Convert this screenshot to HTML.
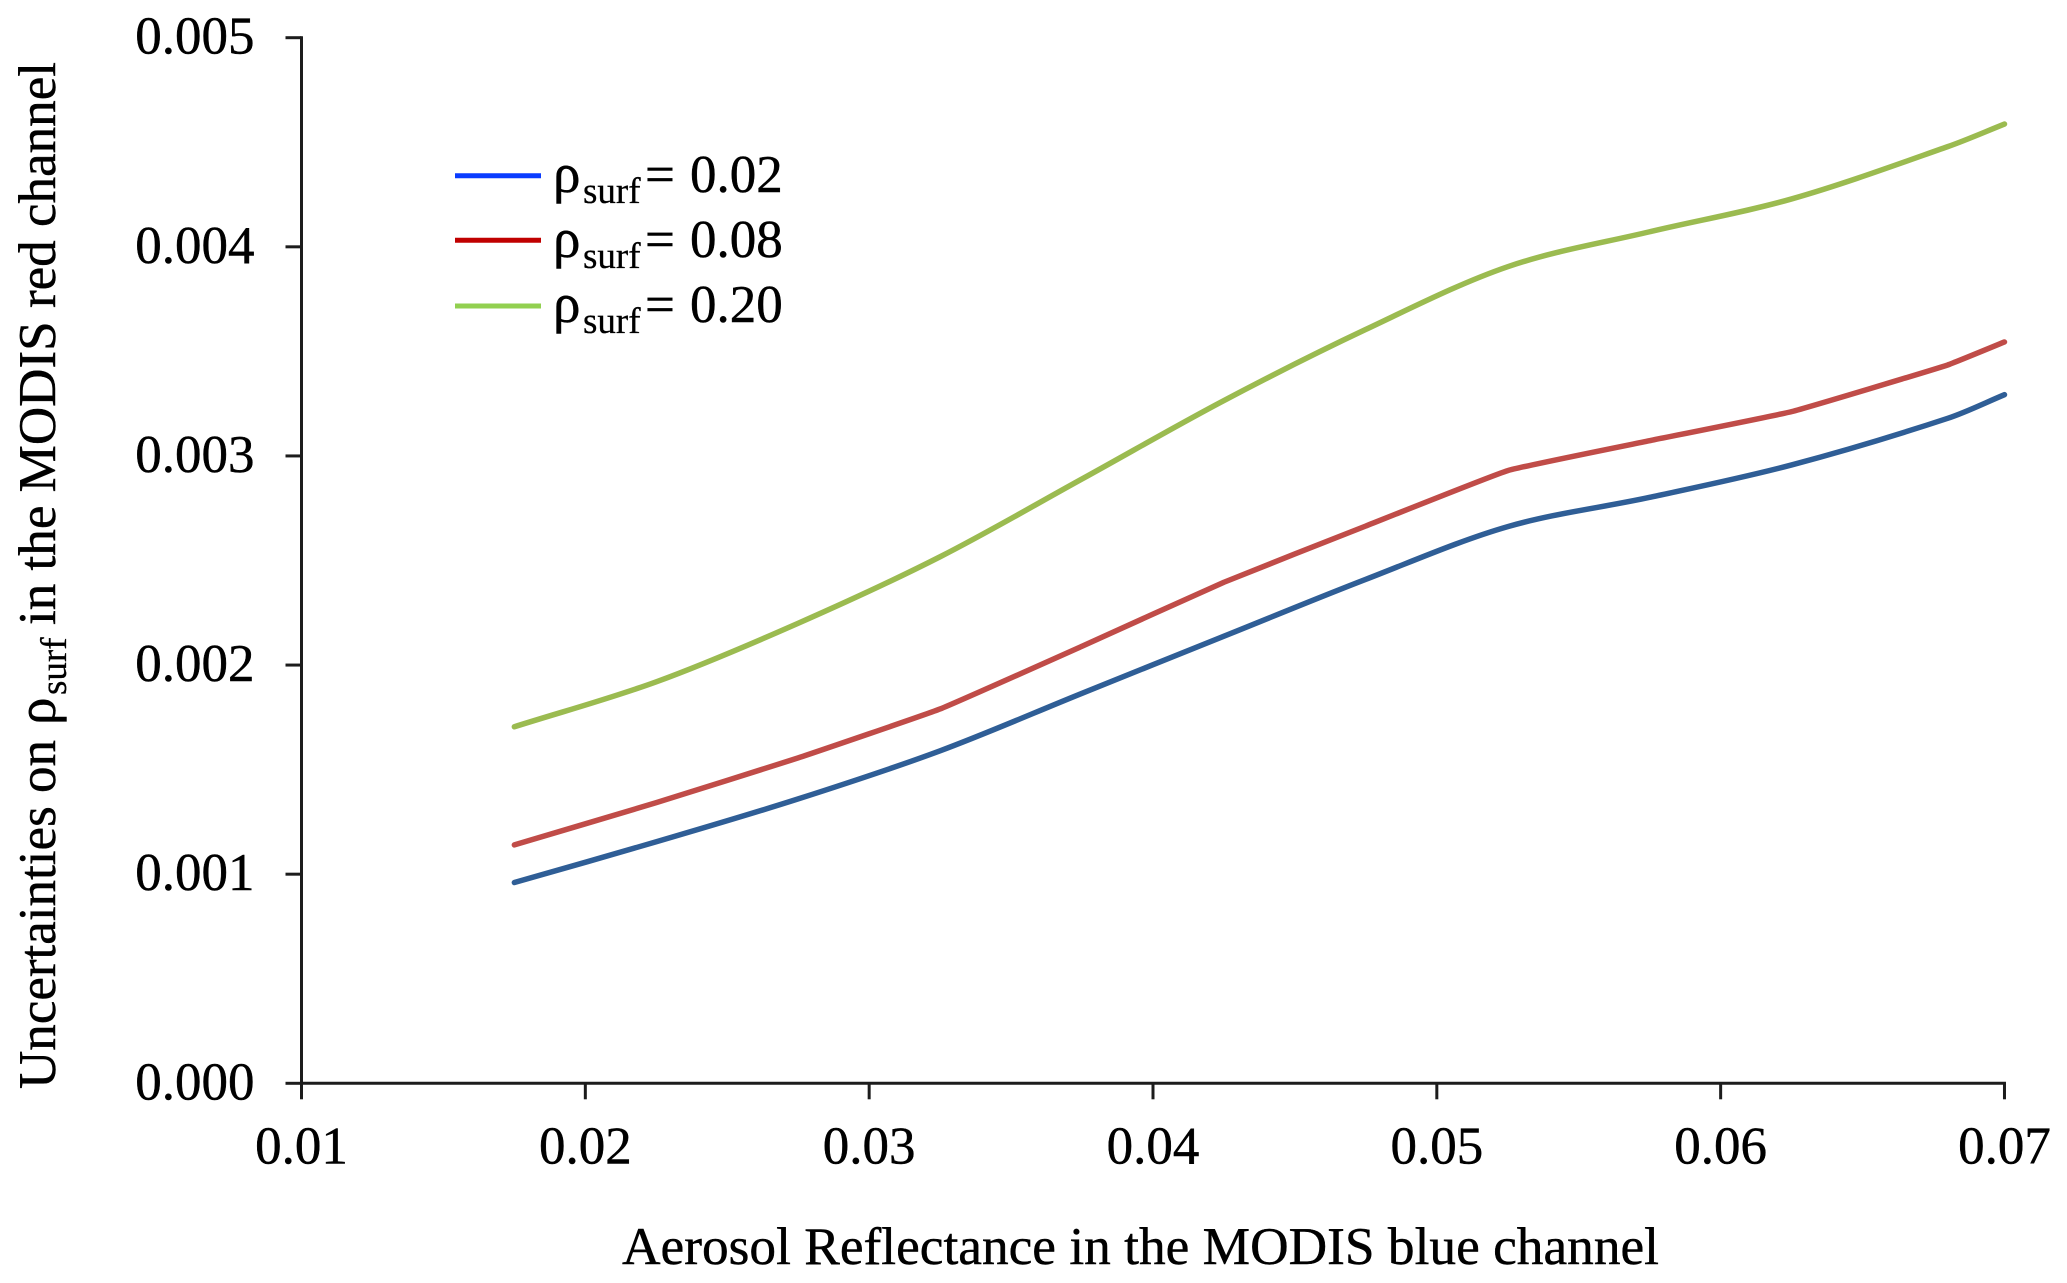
<!DOCTYPE html>
<html lang="en">
<head>
<meta charset="utf-8">
<title>Uncertainties on surface reflectance</title>
<style>
html,body{margin:0;padding:0;background:#fff;width:2067px;height:1283px;overflow:hidden}
svg{display:block}
text{font-family:"Liberation Serif","DejaVu Serif",serif;fill:#000;stroke:#000;stroke-width:.45px;font-size:53px}
.sub{font-size:37px;stroke-width:.3px}
.rho{font-size:55px}
</style>
</head>
<body>
<svg id="chart" xmlns="http://www.w3.org/2000/svg" width="2067" height="1283" viewBox="0 0 2067 1283">
  <rect width="2067" height="1283" fill="#fff"/>
  <g id="axes"></g>
  <g id="series"></g>

  <g transform="translate(55,0) rotate(-90)">
    <text x="-1089" y="0" textLength="349" lengthAdjust="spacingAndGlyphs">Uncertainties on</text>
    <text class="rho" x="-725" y="0">ρ</text>
    <text class="sub" x="-695" y="11">surf</text>
    <text x="-625" y="0" textLength="563" lengthAdjust="spacingAndGlyphs">in the MODIS red channel</text>
  </g>

  <text x="622" y="1264" textLength="1037" lengthAdjust="spacingAndGlyphs">Aerosol Reflectance in the MODIS blue channel</text>

  <g>
    <g>
      <line x1="455" x2="541" y1="175.7" y2="175.7" stroke="#0a3cff" stroke-width="5"/>
      <text class="rho" x="553" y="192">ρ</text>
      <text class="sub" x="583" y="203">surf</text>
      <text x="645" y="192">=</text>
      <text x="690" y="192">0.02</text>
    </g>
    <g>
      <line x1="455" x2="541" y1="240.3" y2="240.3" stroke="#c00000" stroke-width="5"/>
      <text class="rho" x="553" y="257">ρ</text>
      <text class="sub" x="583" y="268">surf</text>
      <text x="645" y="257">=</text>
      <text x="690" y="257">0.08</text>
    </g>
    <g>
      <line x1="455" x2="541" y1="306" y2="306" stroke="#92d050" stroke-width="5"/>
      <text class="rho" x="553" y="322">ρ</text>
      <text class="sub" x="583" y="333">surf</text>
      <text x="645" y="322">=</text>
      <text x="690" y="322">0.20</text>
    </g>
  </g>
</svg>
<script>
const xTickValues = [0.01, 0.02, 0.03, 0.04, 0.05, 0.06, 0.07];
const xTickLabels = ["0.01", "0.02", "0.03", "0.04", "0.05", "0.06", "0.07"];
const yTickValues = [0, 0.001, 0.002, 0.003, 0.004, 0.005];
const yTickLabels = ["0.000", "0.001", "0.002", "0.003", "0.004", "0.005"];
const aerosolReflectance = [0.0175, 0.0225, 0.0275, 0.0325, 0.0375, 0.0425, 0.0475, 0.0525, 0.0575, 0.0625, 0.068, 0.07];
const surf002 = [0.00096, 0.001155, 0.00136, 0.00159, 0.001865, 0.002138, 0.00241, 0.002662, 0.002802, 0.002957, 0.00318, 0.003293];
const surf008 = [0.00114, 0.001342, 0.001556, 0.00179, 0.00209, 0.002396, 0.002665, 0.00293, 0.003073, 0.003212, 0.003435, 0.003545];
const surf020 = [0.001705, 0.00192, 0.0022, 0.002518, 0.00289, 0.003265, 0.003605, 0.003905, 0.004072, 0.004229, 0.004479, 0.004587];

const NS = 'http://www.w3.org/2000/svg';
const xAxis = v => 301.5 + (v - 0.01) * 28383;
const yAxis = v => 1083.3 - v * 209120;
const axesGroup = document.getElementById('axes');
const seriesGroup = document.getElementById('series');

function drawLine(parent, x1, y1, x2, y2) {
  const l = document.createElementNS(NS, 'line');
  l.setAttribute('x1', x1);
  l.setAttribute('y1', y1);
  l.setAttribute('x2', x2);
  l.setAttribute('y2', y2);
  l.setAttribute('stroke', '#1c1c1c');
  l.setAttribute('stroke-width', '3');
  parent.appendChild(l);
  return l;
}

const yAxisLine = drawLine(axesGroup, xAxis(0.01), yAxis(0.005) - 1.5, xAxis(0.01), yAxis(0) + 1.5);


const xAxisLine = drawLine(axesGroup, xAxis(0.01) - 1.5, yAxis(0), xAxis(0.07) + 1.5, yAxis(0));



xTickValues.forEach((v, i) => {
  const t = drawLine(axesGroup, xAxis(v), yAxis(0), xAxis(v), yAxis(0) + 16);
  
  
  const label = document.createElementNS(NS, 'text');
  
  
  label.setAttribute('x', xAxis(v));
  label.setAttribute('y', yAxis(0) + 80);
  label.setAttribute('text-anchor', 'middle');
  label.textContent = xTickLabels[i];
  axesGroup.appendChild(label);
});

yTickValues.forEach((v, i) => {
  const t = drawLine(axesGroup, xAxis(0.01) - 16, yAxis(v), xAxis(0.01), yAxis(v));
  
  
  const label = document.createElementNS(NS, 'text');
  
  
  label.setAttribute('x', 254.5);
  label.setAttribute('y', yAxis(v) + 16);
  label.setAttribute('text-anchor', 'end');
  label.textContent = yTickLabels[i];
  axesGroup.appendChild(label);
});

function curvePath(xs, ys, handle) {
  const pts = xs.map((x, i) => [xAxis(x), yAxis(ys[i])]);
  const slope = i => {
    const a = pts[Math.max(i - 1, 0)];
    const b = pts[Math.min(i + 1, pts.length - 1)];
    return (b[1] - a[1]) / (b[0] - a[0]);
  };
  let d = 'M' + pts[0][0].toFixed(2) + ' ' + pts[0][1].toFixed(2);
  for (let i = 0; i < pts.length - 1; i++) {
    const p1 = pts[i];
    const p2 = pts[i + 1];
    const dx = (p2[0] - p1[0]) * handle;
    const c1x = p1[0] + dx;
    const c1y = p1[1] + slope(i) * dx;
    const c2x = p2[0] - dx;
    const c2y = p2[1] - slope(i + 1) * dx;
    d += 'C' + c1x.toFixed(2) + ' ' + c1y.toFixed(2) + ' ' + c2x.toFixed(2) + ' ' + c2y.toFixed(2) + ' ' + p2[0].toFixed(2) + ' ' + p2[1].toFixed(2);
  }
  return d;
}

const blueLine = document.createElementNS(NS, 'path');


blueLine.setAttribute('d', curvePath(aerosolReflectance, surf002, 0.33));
blueLine.setAttribute('stroke', '#2f5e96');
const redLine = document.createElementNS(NS, 'path');


redLine.setAttribute('d', curvePath(aerosolReflectance, surf008, 0.1));
redLine.setAttribute('stroke', '#c04c48');
const greenLine = document.createElementNS(NS, 'path');


greenLine.setAttribute('d', curvePath(aerosolReflectance, surf020, 0.33));
greenLine.setAttribute('stroke', '#9bbb50');
[blueLine, redLine, greenLine].forEach(p => {
  p.setAttribute('fill', 'none');
  p.setAttribute('stroke-width', '5.5');
  p.setAttribute('stroke-linecap', 'round');
  p.setAttribute('stroke-linejoin', 'round');
  seriesGroup.appendChild(p);
});
</script>
</body>
</html>
